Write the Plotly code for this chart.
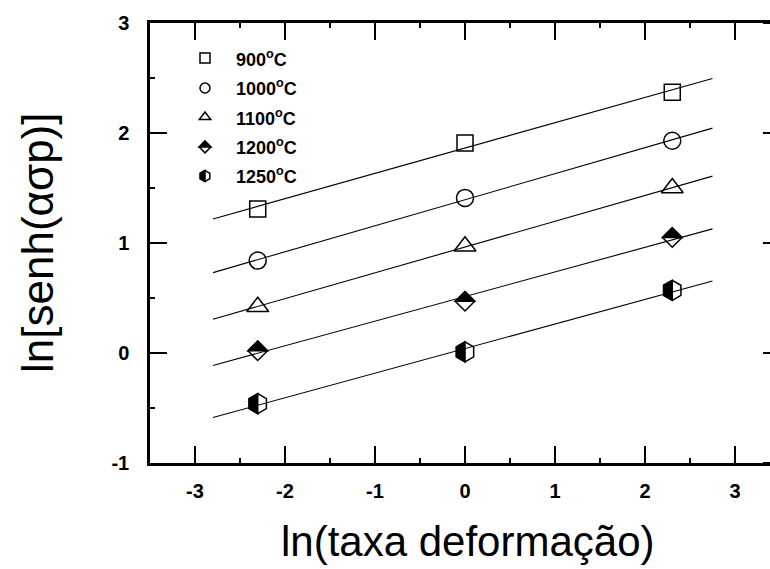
import numpy as np
import plotly.graph_objects as go

# ln(strain rate) for 0.1, 1 and 10 s^-1
ln_rate = [-2.303, 0.0, 2.303]

# ln[sinh(alpha*sigma_p)] per test temperature
temperatures = ["900", "1000", "1100", "1200", "1250"]
ln_sinh_900 = [1.31, 1.91, 2.37]
ln_sinh_1000 = [0.84, 1.41, 1.93]
ln_sinh_1100 = [0.42, 0.97, 1.50]
ln_sinh_1200 = [0.02, 0.47, 1.05]
ln_sinh_1250 = [-0.46, 0.01, 0.57]

x_tick_vals = [-3, -2, -1, 0, 1, 2, 3]
y_tick_vals = [-1, 0, 1, 2, 3]
fit_span = [-2.8, 2.75]

series = [ln_sinh_900, ln_sinh_1000, ln_sinh_1100, ln_sinh_1200, ln_sinh_1250]
symbols = ["square", "circle", "triangle", "diamond_half", "hexagon_half"]

# ---- page geometry ----
W, H = 770, 569
M_L, M_R, M_T, M_B = 150, 0, 23, 106
PW, PH = W - M_L - M_R, H - M_T - M_B
X_UNIT = 90.0                 # px per unit along x
X_MIN = -3.5
X_MAX = X_MIN + PW / X_UNIT   # frame continues past the right page edge
Y_RANGE = [-1, 3]

FONT = "Arial, Liberation Sans, sans-serif"
LW = 1.5


def marker_shapes(kind, xref, yref, xa, ya, s):
    """Shapes (pixel sized, anchored at xa/ya) for one marker of size s."""
    base = dict(xref=xref, yref=yref, xsizemode="pixel", ysizemode="pixel",
                xanchor=xa, yanchor=ya, layer="above")
    out = []
    r = s / 2.0
    if kind == "square":
        out.append(dict(base, type="rect", x0=-r, x1=r, y0=-r, y1=r,
                        line=dict(color="black", width=LW)))
    elif kind == "circle":
        out.append(dict(base, type="circle", x0=-r, x1=r, y0=-r, y1=r,
                        line=dict(color="black", width=LW)))
    elif kind == "triangle":
        hw = r * 1.155
        p = f"M{-hw},{-r/2} L{hw},{-r/2} L0,{r} Z"
        out.append(dict(base, type="path", path=p, line=dict(color="black", width=LW)))
    elif kind == "diamond_half":
        d = 1.3 * r
        top = f"M{-d},0 L{d},0 L0,{d} Z"
        full = f"M{-d},0 L0,{-d} L{d},0 L0,{d} Z"
        out.append(dict(base, type="path", path=top, fillcolor="black",
                        line=dict(color="black", width=LW)))
        out.append(dict(base, type="path", path=full, line=dict(color="black", width=LW)))
    elif kind == "hexagon_half":
        rt = r * np.sqrt(3) / 2
        left = f"M0,{r} L{-rt},{r/2} L{-rt},{-r/2} L0,{-r} Z"
        full = (f"M{rt},{-r/2} L{rt},{r/2} L0,{r} L{-rt},{r/2} "
                f"L{-rt},{-r/2} L0,{-r} Z")
        out.append(dict(base, type="path", path=left, fillcolor="black",
                        line=dict(color="black", width=LW)))
        out.append(dict(base, type="path", path=full, line=dict(color="black", width=LW)))
    return out


fig = go.Figure()
shapes = []

# fitted straight lines
for ys in series:
    slope, icpt = np.polyfit(ln_rate, ys, 1)
    fx = np.array(fit_span)
    fig.add_trace(go.Scatter(x=fx, y=slope * fx + icpt, mode="lines",
                             line=dict(color="black", width=1.1),
                             showlegend=False, hoverinfo="skip"))

# data markers (open outlines as scatter markers, black halves as shapes)
plotly_symbol = {"square": ("square-open", 16), "circle": ("circle-open", 17),
                 "triangle": ("triangle-up-open", 19),
                 "diamond_half": ("diamond-open", 15),
                 "hexagon_half": ("hexagon-open", 20)}
for t, ys, kind in zip(temperatures, series, symbols):
    sym, size = plotly_symbol[kind]
    fig.add_trace(go.Scatter(x=ln_rate, y=ys, mode="markers", name=t + "°C",
                             marker=dict(symbol=sym, size=size, color="black",
                                         line=dict(color="black", width=LW)),
                             showlegend=False))
    if kind in ("diamond_half", "hexagon_half"):
        for xv, yv in zip(ln_rate, ys):
            shapes += marker_shapes(kind, "x", "y", xv, yv, size)[:1]

# legend block
leg_rows_px = [58, 88, 117, 147, 176]
leg_sizes = {"square": 10, "circle": 10, "triangle": 10,
             "diamond_half": 9, "hexagon_half": 11}
leg_marker_x = (205 - M_L) / PW
leg_text_x = (234 - M_L) / PW
annotations = []
for t, kind, py in zip(temperatures, symbols, leg_rows_px):
    yp = 1 - (py - M_T) / PH
    shapes += marker_shapes(kind, "paper", "paper", leg_marker_x, yp, leg_sizes[kind])
    annotations.append(dict(xref="paper", yref="paper", x=leg_text_x, y=yp,
                            xanchor="left", yanchor="middle", showarrow=False,
                            text=f"<b>{t}<sup>o</sup>C</b>",
                            font=dict(family=FONT, size=18, color="black")))

# right-hand frame ticks (the frame edge itself lies past the page edge)
for yv in y_tick_vals:
    shapes.append(dict(type="line", xref="x", yref="y", x0=3.5 - 17 / X_UNIT,
                       x1=3.5, y0=yv, y1=yv, line=dict(color="black", width=2)))

# axis titles
annotations.append(dict(xref="paper", yref="paper", x=(468 - M_L) / PW,
                        y=1 - (541 - M_T) / PH, xanchor="center", yanchor="middle",
                        showarrow=False, text="ln(taxa deformação)",
                        font=dict(family=FONT, size=42, color="black")))
annotations.append(dict(xref="paper", yref="paper", x=(37 - M_L) / PW,
                        y=0.5, xanchor="center", yanchor="middle", textangle=-90,
                        showarrow=False, text="ln[senh(ασp)]",
                        font=dict(family=FONT, size=44, color="black")))

axis_common = dict(showline=True, linecolor="black", linewidth=2.5,
                   ticks="inside", ticklen=17, tickwidth=2, tickcolor="black",
                   showgrid=False, zeroline=False,
                   tickfont=dict(family=FONT, size=20, color="black"))

fig.update_layout(
    width=W, height=H,
    margin=dict(l=M_L, r=M_R, t=M_T, b=M_B, pad=0),
    paper_bgcolor="white", plot_bgcolor="white",
    xaxis=dict(axis_common, range=[X_MIN, X_MAX], tickvals=x_tick_vals,
               ticktext=[f"<b>{v}</b>" for v in x_tick_vals], mirror="ticks",
               ticklabelstandoff=8,
               minor=dict(ticks="inside", ticklen=5, tickwidth=1.5,
                          tickcolor="black", dtick=0.5, tick0=0)),
    yaxis=dict(axis_common, range=Y_RANGE, tickvals=y_tick_vals,
               ticktext=[f"<b>{v}</b>" for v in y_tick_vals], mirror=False,
               ticklabelstandoff=14,
               minor=dict(ticks="inside", ticklen=5, tickwidth=1.5,
                          tickcolor="black", dtick=0.5, tick0=0)),
    shapes=shapes,
    annotations=annotations,
    showlegend=False,
)

fig.write_html("out.html")
